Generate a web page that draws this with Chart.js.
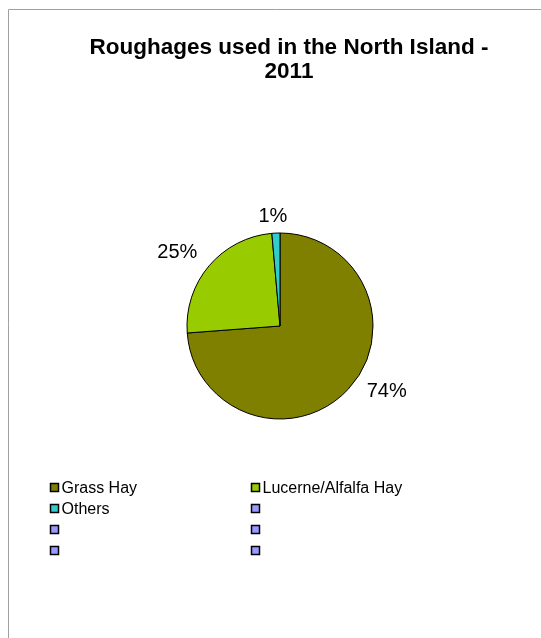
<!DOCTYPE html>
<html>
<head>
<meta charset="utf-8">
<script src="https://cdn.jsdelivr.net/npm/chart.js@4/dist/chart.umd.min.js"></script>
<style>
  html, body { margin: 0; padding: 0; background: #fff; }
  #wrap { position: relative; width: 541px; height: 638px; }
</style>
</head>
<body>
<div id="wrap"><canvas id="pieChart"></canvas></div>
<script>
// chart data
var titleLines = ['Roughages used in the North Island -', '2011'];
var categories = ['Grass Hay', 'Lucerne/Alfalfa Hay', 'Others'];
var shares = [73.8, 24.8, 1.4];
var sliceColors = ['#808000', '#99CC00', '#33CCCC'];
// the legend also lists 5 blank entries
var legendLabels = ['Grass Hay', 'Lucerne/Alfalfa Hay', 'Others', '', '', '', '', ''];
var blankColor = '#9999FF';

// small per-label nudges (px) for the outside labels
var labelNudge = [[14, -21], [-6, 8], [-2, 6]];

var FONT = '"Liberation Sans", Arial, sans-serif';

var decorPlugin = {
    id: 'decor',
    beforeDraw: function (chart) {
        var ctx = chart.ctx;
        ctx.save();
        ctx.fillStyle = '#fff';
        ctx.fillRect(0, 0, chart.width, chart.height);
        // outer frame (only top and left are visible)
        ctx.strokeStyle = '#a0a0a0';
        ctx.lineWidth = 1;
        ctx.beginPath();
        ctx.moveTo(8.5, chart.height + 5);
        ctx.lineTo(8.5, 9.5);
        ctx.lineTo(chart.width + 5, 9.5);
        ctx.stroke();
        ctx.restore();
    },
    afterDatasetsDraw: function (chart) {
        var ctx = chart.ctx;
        var meta = chart.getDatasetMeta(0);
        var data = chart.data.datasets[0].data;
        var total = data.reduce(function (a, b) { return a + b; }, 0);
        ctx.save();
        ctx.font = '20px ' + FONT;
        ctx.fillStyle = '#000';
        ctx.textAlign = 'center';
        ctx.textBaseline = 'middle';
        meta.data.forEach(function (arc, i) {
            var p = arc.getProps(['x', 'y', 'startAngle', 'endAngle', 'outerRadius'], true);
            var mid = (p.startAngle + p.endAngle) / 2;
            var dx = Math.cos(mid), dy = Math.sin(mid);
            var txt = Math.round(data[i] / total * 100) + '%';
            var w = ctx.measureText(txt).width, h = 20;
            var dist = p.outerRadius + 12 + (w / 2) * Math.abs(dx) + (h / 2) * Math.abs(dy);
            var nx = labelNudge[i] ? labelNudge[i][0] : 0;
            var ny = labelNudge[i] ? labelNudge[i][1] : 0;
            ctx.fillText(txt, p.x + dx * dist + nx, p.y + dy * dist + ny);
        });
        ctx.restore();
    },
    afterDraw: function (chart) {
        var ctx = chart.ctx;
        ctx.save();
        // title
        ctx.font = 'bold 22.5px ' + FONT;
        ctx.fillStyle = '#000';
        ctx.textAlign = 'center';
        ctx.textBaseline = 'middle';
        titleLines.forEach(function (line, i) {
            ctx.fillText(line, 289, 48 + i * 24);
        });

        // legend: 2 columns
        var colors = chart.data.datasets[0].backgroundColor;
        ctx.font = '16px ' + FONT;
        ctx.textAlign = 'left';
        legendLabels.forEach(function (lbl, i) {
            var col = i % 2, row = Math.floor(i / 2);
            var bx = col === 0 ? 50.5 : 251.5;
            var cy = 488 + row * 21;
            ctx.fillStyle = colors[i] || blankColor;
            ctx.fillRect(bx, cy - 4.5, 8, 8);
            ctx.strokeStyle = '#000';
            ctx.lineWidth = 1.5;
            ctx.strokeRect(bx, cy - 4.5, 8, 8);
            if (lbl) {
                ctx.fillStyle = '#000';
                ctx.fillText(lbl, bx + 11, cy + 1);
            }
        });
        ctx.restore();
    }
};

new Chart(document.getElementById('pieChart'), {
    type: 'pie',
    data: {
        labels: categories,
        datasets: [{
            data: shares,
            backgroundColor: sliceColors,
            borderColor: '#000',
            borderWidth: 1
        }]
    },
    options: {
        responsive: true,
        maintainAspectRatio: false,
        animation: false,
        radius: 93,
        layout: { padding: { left: 150, right: 131, top: 196, bottom: 182 } },
        plugins: {
            legend: { display: false },
            title: { display: false },
            tooltip: { enabled: false }
        }
    },
    plugins: [decorPlugin]
});
</script>
</body>
</html>
